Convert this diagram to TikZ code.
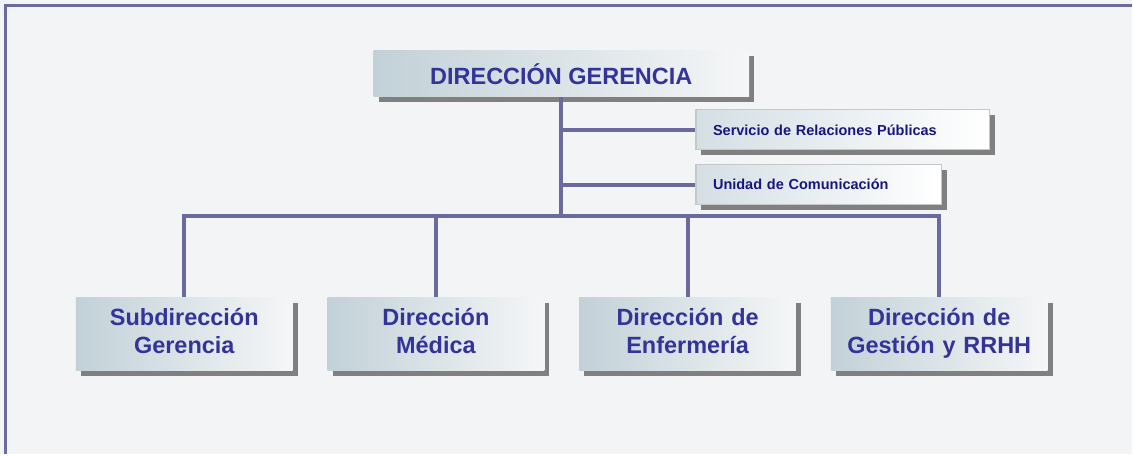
\documentclass[tikz,border=0pt]{standalone}
\usepackage{fontspec}
\setmainfont{Liberation Sans}
\usetikzlibrary{shadows}
\definecolor{fondo}{HTML}{F3F4F6}
\definecolor{linea}{HTML}{6A6A9E}
\definecolor{texto}{HTML}{333399}
\definecolor{textochico}{HTML}{161680}
\definecolor{cajaizq}{HTML}{C2D1D8}
\definecolor{cajader}{HTML}{F5F6F7}
\definecolor{sombra}{HTML}{808080}
\definecolor{borde}{HTML}{C4C8CA}
\begin{document}
\begin{tikzpicture}[x=1pt,y=-1pt,
	caja/.style = {inner sep=0pt, left color=cajaizq, right color=cajader,
		drop shadow={fill=sombra, opacity=1, shadow xshift=5pt, shadow yshift=-5pt},
		text=texto, font=\bfseries\fontsize{23.5}{28}\selectfont, align=center},
	cajachica/.style = {inner xsep=17pt, inner ysep=0pt, minimum height=40pt, draw=borde, line width=1.2pt,
		left color=cajaizq!70!white, right color=white,
		drop shadow={fill=sombra, opacity=1, shadow xshift=5pt, shadow yshift=-5pt},
		text=textochico, font=\bfseries\fontsize{14.5}{17}\selectfont, align=left},
	rama/.style = {draw=linea, line width=4pt}]
	\fill[fondo] (0,0) rectangle (1133,455);
	\draw[linea, line width=3pt] (6,455) -- (6,6) -- (1133,6);
	% cajas
	\node[caja, minimum width=376pt, minimum height=46pt] (dg) at (562,74) {DIRECCIÓN GERENCIA};
	\node[cajachica, text width=260pt] (srp) at (844,130) {Servicio de Relaciones Públicas};
	\node[cajachica, text width=212pt] (uc) at (820,185) {Unidad de Comunicación};
	\node[caja, text width=217pt, minimum height=73pt] (sub) at (184.5,334.5) {Subdirección\strut\\Gerencia\strut};
	\node[caja, text width=217pt, minimum height=73pt] (med) at (436.5,334.5) {Dirección\strut\\Médica\strut};
	\node[caja, text width=217pt, minimum height=73pt] (enf) at (688.5,334.5) {Dirección de\strut\\Enfermería\strut};
	\node[caja, text width=217pt, minimum height=73pt] (ges) at (940.5,334.5) {Dirección de\strut\\Gestión y RRHH\strut};
	% lineas
	\coordinate (bus) at (562,216);
	\draw[rama] (dg.south) -- (bus);
	\draw[rama] (dg.south |- srp.west) -- (srp.west);
	\draw[rama] (dg.south |- uc.west) -- (uc.west);
	\draw[rama] (sub.north) |- (bus) -| (ges.north);
	\draw[rama] (med.north) -- (med.north |- bus);
	\draw[rama] (enf.north) -- (enf.north |- bus);
\end{tikzpicture}
\end{document}
